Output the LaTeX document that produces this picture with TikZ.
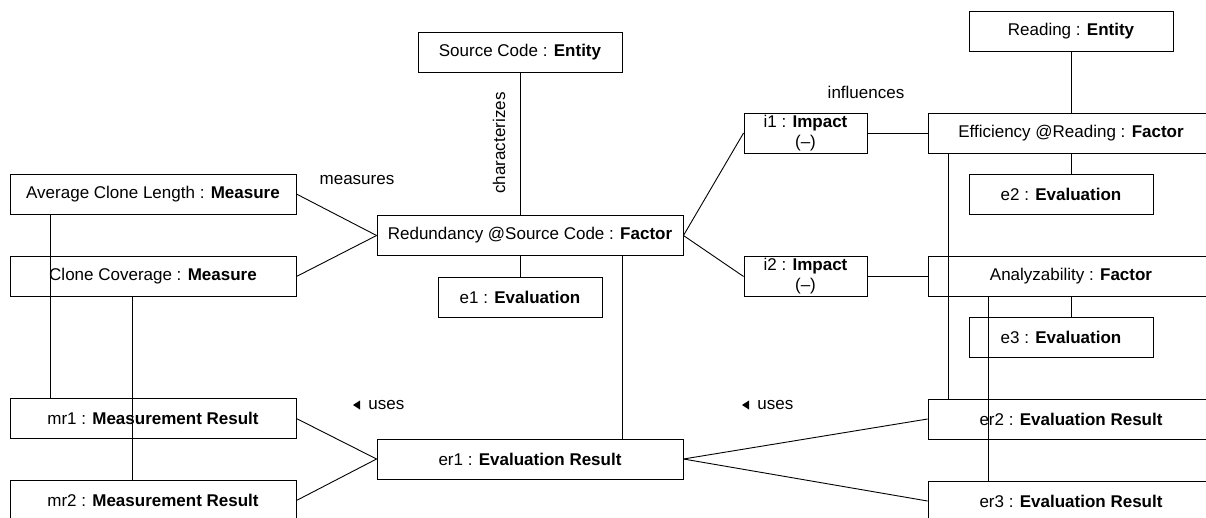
\documentclass[tikz,border=0pt]{standalone}
\usepackage{fontspec}
\setmainfont{Liberation Sans}
\begin{document}
\begin{tikzpicture}[x=1pt,y=-1pt,line width=0.9pt,
	every node/.style={font=\fontsize{17}{20}\selectfont},
	obj/.style={draw, inner sep=0pt, minimum height=40pt, align=center, minimum width=#1},
	obj/.default=286pt,
	lbl/.style={inner sep=0pt}]
	\useasboundingbox (0,0) rectangle (1206,517);
	\clip (0,0) rectangle (1206,517);

				\begin{scope}
	\node[obj] (acl) at (153,194) {Average Clone Length : \textbf{Measure}};
	\node[obj] (cc) at (153,276.5) {Clone Coverage : \textbf{Measure}};
	\node[obj] (mr1) at (153,418.5) {mr1 : \textbf{Measurement Result}};
	\node[obj] (mr2) at (153,500.5) {mr2 : \textbf{Measurement Result}};

	\node[obj=204pt] (src) at (520,52) {Source Code : \textbf{Entity}};
	\node[obj=306pt] (red) at (530,235.5) {Redundancy @Source Code : \textbf{Factor}};
	\node[obj=164pt] (e1) at (520,297) {e1 : \textbf{Evaluation}};
	\node[obj=306pt] (er1) at (530,459) {er1 : \textbf{Evaluation Result}};
				\end{scope}

				\begin{scope}
	\node[obj=123pt] (i1) at (805.5,133) {i1 : \textbf{Impact}\\(–)};
	\node[obj=123pt] (i2) at (805.5,276.5) {i2 : \textbf{Impact}\\(–)};

	\node[obj=204pt] (rd) at (1071,31.5) {Reading : \textbf{Entity}};
	\node[obj] (eff) at (1071,133) {Efficiency @Reading : \textbf{Factor}};
	\node[obj=184pt] (e2) at (1061,194.5) {e2 : \textbf{Evaluation}};
	\node[obj] (ana) at (1071,276.5) {Analyzability : \textbf{Factor}};
	\node[obj=184pt] (e3) at (1061,337.5) {e3 : \textbf{Evaluation}};
	\node[obj] (er2) at (1071,419) {er2 : \textbf{Evaluation Result}};
	\node[obj] (er3) at (1071,501) {er3 : \textbf{Evaluation Result}};
				\end{scope}

	\node[lbl] (measures) at (357,180) {measures};
	\node[lbl,rotate=90] (characterizes) at (499,143) {characterizes};
	\node[lbl] (influences) at (866,92) {influences};
	\node[lbl,anchor=west] (uses1) at (368,405) {uses};
	\node[lbl,anchor=west] (uses2) at (757,405) {uses};
	\fill ([xshift=-15pt]uses1.west) -- ++(7,-4.5) -- ++(0,9) -- cycle;
	\fill ([xshift=-15pt]uses2.west) -- ++(7,-4.5) -- ++(0,9) -- cycle;

	\draw (acl.east) -- (red.west);
	\draw (cc.east) -- (red.west);
	\draw (src.south) -- (src.south |- red.north);
	\draw (e1.north) -- (e1.north |- red.south);
	\draw ([xshift=92pt]red.south) -- ([xshift=92pt]er1.north);
	\draw ([xshift=41pt]acl.south west) -- ([xshift=41pt]mr1.north west);
	\draw ([xshift=123pt]cc.south west) -- ([xshift=123pt]mr2.north west);
	\draw (mr1.east) -- (er1.west);
	\draw (mr2.east) -- (er1.west);

	\draw (red.east) -- (i1.west);
	\draw (red.east) -- (i2.west);
	\draw (i1.east) -- (eff.west);
	\draw (i2.east) -- (ana.west);
	\draw (rd.south) -- (eff.north);
	\draw (eff.south) -- (eff.south |- e2.north);
	\draw (ana.south) -- (ana.south |- e3.north);
	\draw ([xshift=21pt]eff.south west) -- ([xshift=21pt]er2.north west);
	\draw ([xshift=61pt]ana.south west) -- ([xshift=61pt]er3.north west);
	\draw (er1.east) -- (er2.west);
	\draw (er1.east) -- (er3.west);

\end{tikzpicture}
\end{document}
